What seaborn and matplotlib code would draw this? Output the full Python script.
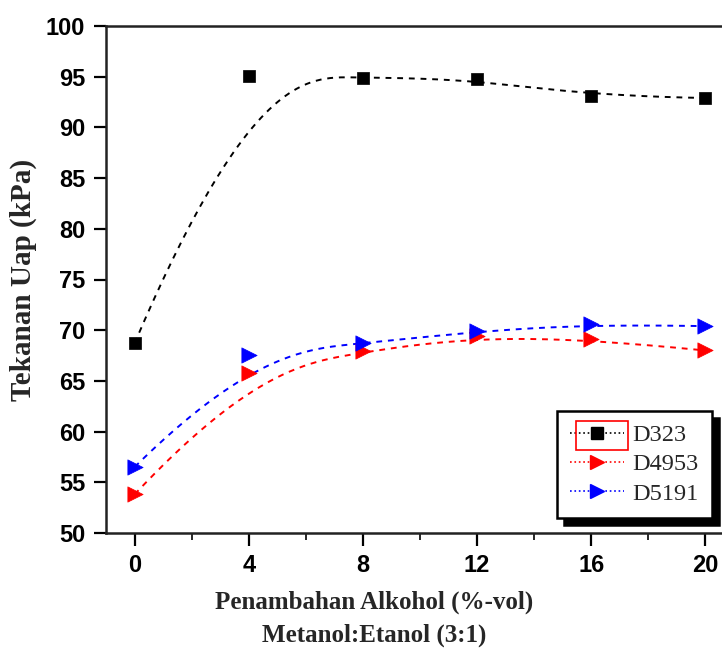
import numpy as np
import pandas as pd
import matplotlib
matplotlib.use("Agg")
import matplotlib.pyplot as plt
from matplotlib.lines import Line2D
from matplotlib.patches import Rectangle
import seaborn as sns

# ---- data ----
alkohol = [0, 4, 8, 12, 16, 20]
d323 = [68.7, 95.1, 94.9, 94.8, 93.1, 92.9]
d4953 = [53.8, 65.8, 67.9, 69.4, 69.1, 68.0]
d5191 = [56.5, 67.6, 68.7, 69.9, 70.6, 70.4]
series_names = ["D323", "D4953", "D5191"]
x_ticks = [0, 4, 8, 12, 16, 20]
y_ticks = [50, 55, 60, 65, 70, 75, 80, 85, 90, 95, 100]


def bspline(xs, ys, n=300, k=3):
    """Clamped uniform B-spline using the data points as control points."""
    P = np.column_stack([xs, ys]).astype(float)
    m = len(P)
    inner = np.arange(1, m - k)
    knots = np.concatenate([np.zeros(k + 1), inner, np.full(k + 1, m - k)])
    t = np.linspace(0, m - k, n)
    t[-1] -= 1e-9

    def basis(i, p, tt):
        if p == 0:
            return np.where((knots[i] <= tt) & (tt < knots[i + 1]), 1.0, 0.0)
        a = 0.0
        d1 = knots[i + p] - knots[i]
        if d1 > 0:
            a = (tt - knots[i]) / d1 * basis(i, p - 1, tt)
        b = 0.0
        d2 = knots[i + p + 1] - knots[i + 1]
        if d2 > 0:
            b = (knots[i + p + 1] - tt) / d2 * basis(i + 1, p - 1, tt)
        return a + b

    B = np.array([basis(i, k, t) for i in range(m)])
    C = B.T @ P
    return C[:, 0], C[:, 1]


sns.set_style("ticks")
plt.rcParams["font.family"] = ["Liberation Sans", "DejaVu Sans"]

fig = plt.figure(figsize=(7.22, 6.48), dpi=100)
ax = fig.add_axes([106 / 722, 1 - 533 / 648, 628 / 722, 507 / 648])

colors = ["black", "red", "blue"]
markers = ["s", ">", ">"]
msizes = [9, 11, 11]
all_vals = [d323, d4953, d5191]

for name, vals, c in zip(series_names, all_vals, colors):
    cx, cy = bspline(alkohol, vals)
    curve = pd.DataFrame({"x": cx, "y": cy})
    sns.lineplot(data=curve, x="x", y="y", ax=ax, color=c, lw=1.4,
                 dashes=False, linestyle=(0, (3, 3)), estimator=None, sort=False,
                 legend=False)

for name, vals, c, mk, ms in zip(series_names, all_vals, colors, markers, msizes):
    df = pd.DataFrame({"x": alkohol, "y": vals})
    sns.scatterplot(data=df, x="x", y="y", ax=ax, color=c, marker=mk,
                    s=ms ** 2, edgecolor=c, linewidth=0.5, legend=False, zorder=5)

ax.set_xlim(-1, 21)
ax.set_ylim(50, 100)
ax.set_xticks(x_ticks)
ax.set_xticks(np.arange(2, 21, 4), minor=True)
ax.set_yticks(y_ticks)
ax.tick_params(axis="both", which="major", direction="out", length=9, width=1.6,
               labelsize=17, pad=6, colors="black")
ax.tick_params(axis="x", which="minor", direction="out", length=5, width=1.4,
               bottom=True)
for lab in ax.get_xticklabels() + ax.get_yticklabels():
    lab.set_fontweight("bold")
for s in ax.spines.values():
    s.set_linewidth(1.8)
    s.set_color("#222222")

ax.set_xlabel("Penambahan Alkohol (%-vol)\nMetanol:Etanol (3:1)",
              fontfamily="Liberation Serif", fontweight="bold", fontsize=18,
              linespacing=1.5)
ax.xaxis.set_label_coords(0.427, -0.114)
ax.xaxis.label.set_verticalalignment("top")
ax.set_ylabel("Tekanan Uap (kPa)", fontfamily="Liberation Serif",
              fontweight="bold", fontsize=21, labelpad=6)

handles = [Line2D([], [], color=c, marker=mk, markersize=ms * 0.95, linestyle=":",
                  lw=1.2, markeredgecolor=c)
           for c, mk, ms in zip(colors, markers, msizes)]
leg = ax.legend(handles, series_names, loc="lower right",
                bbox_to_anchor=(0.965, 0.0296), frameon=True, fancybox=False,
                shadow={"ox": 5, "oy": -5, "color": "black", "alpha": 1},
                prop={"family": "Liberation Serif", "size": 17.5},
                handlelength=2.2, handletextpad=0.35, labelspacing=0.3,
                borderpad=0.55, borderaxespad=0)
leg.get_frame().set_edgecolor("black")
leg.get_frame().set_linewidth(1.8)

# selection box around first legend handle (as in the reference)
fig.canvas.draw()
r = fig.canvas.get_renderer()
fb = leg.get_frame().get_window_extent(r)
tb = leg.get_texts()[0].get_window_extent(r)
x0 = fb.x0 + 19
x1 = tb.x0 - 4
yc = (tb.y0 + tb.y1) / 2
h = 29
fig.patches.append(Rectangle((x0 / fig.bbox.width, (yc - h / 2) / fig.bbox.height),
                             (x1 - x0) / fig.bbox.width, h / fig.bbox.height,
                             transform=fig.transFigure, fill=False,
                             edgecolor="red", lw=1.2, zorder=10))

fig.savefig("out.png", dpi=100, facecolor="white")
